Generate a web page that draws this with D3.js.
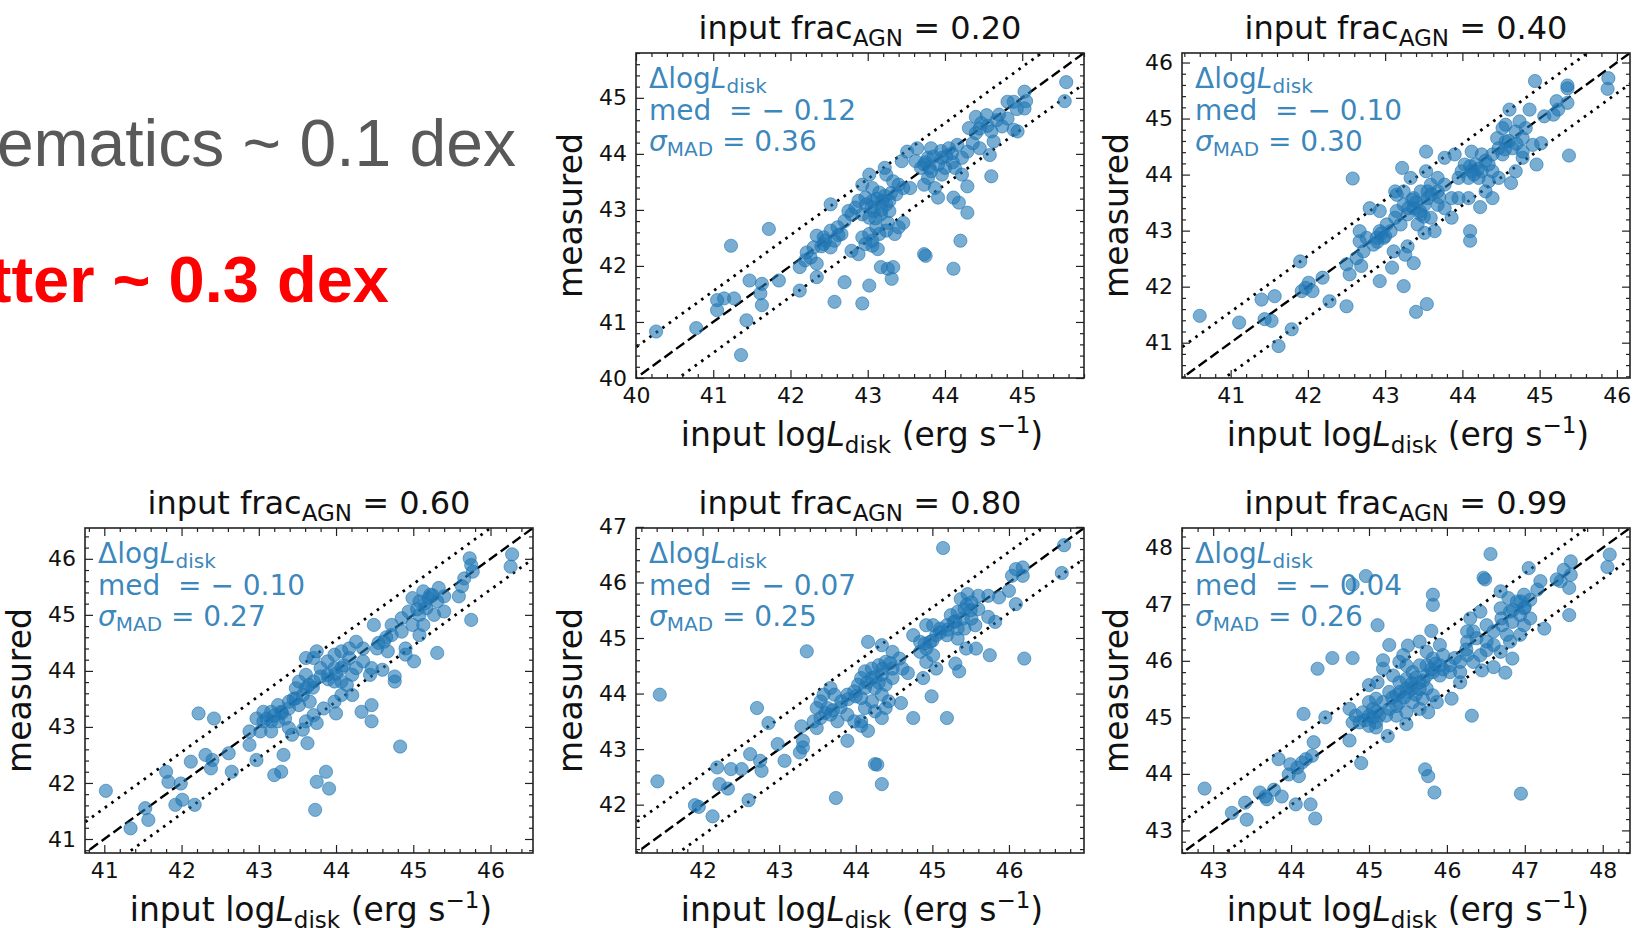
<!DOCTYPE html>
<html>
<head>
<meta charset="utf-8">
<script src="https://cdn.jsdelivr.net/npm/d3@7"></script>
<style>
  body { margin: 0; background: #fff; }
  svg { display: block; }
  text { white-space: pre; }
</style>
</head>
<body>
<div id="chart"></div>
<script>
// --- values ---
const fracLabels = ['0.20', '0.40', '0.60', '0.80', '0.99'];
const medLabels = ['\u22120.12', '\u22120.10', '\u22120.10', '\u22120.07', '\u22120.04'];
const sigmaLabels = ['0.36', '0.30', '0.27', '0.25', '0.26'];
const axisLimits = [[40, 45.8], [40.37, 46.17], [40.75, 46.55], [41.13, 46.98], [42.6, 48.35]];
const xTickValues = [[40, 41, 42, 43, 44, 45], [41, 42, 43, 44, 45, 46], [41, 42, 43, 44, 45, 46], [42, 43, 44, 45, 46], [43, 44, 45, 46, 47, 48]];
const yTickValues = [[40, 41, 42, 43, 44, 45], [41, 42, 43, 44, 45, 46], [41, 42, 43, 44, 45, 46], [42, 43, 44, 45, 46, 47], [43, 44, 45, 46, 47, 48]];
const bandWidth = 0.55; // dotted lines around 1:1

// [input logL, measured logL]
const pts020 = [[45.57,45.28],[45.55,44.94],[45.03,45.11],[45.05,44.94],[44.89,44.93],[45.03,44.81],[44.93,44.80],[44.81,44.63],[44.54,44.69],[44.67,44.60],[44.74,44.49],[44.60,44.40],[44.47,44.55],[44.40,44.66],[44.31,44.46],[44.40,44.37],[44.94,44.40],[44.58,43.98],[44.45,44.10],[44.36,44.19],[44.29,44.04],[44.22,43.93],[44.16,44.16],[44.09,44.01],[44.02,43.96],[44.60,43.60],[43.82,44.10],[43.78,43.93],[43.73,43.81],[43.64,44.10],[43.69,43.75],[43.82,43.69],[43.91,43.81],[44.00,43.75],[43.51,44.04],[43.62,43.87],[43.73,43.45],[43.87,43.39],[43.91,43.22],[43.78,43.57],[43.96,43.63],[44.13,43.75],[44.22,43.63],[44.29,43.42],[44.11,43.22],[44.18,43.13],[44.29,42.95],[43.44,43.87],[43.22,43.75],[43.24,43.63],[43.33,43.51],[43.46,43.39],[43.55,43.39],[43.37,43.28],[43.28,43.16],[43.02,43.63],[42.93,43.45],[43.06,43.39],[43.15,43.31],[42.97,43.22],[43.06,43.16],[43.19,43.16],[43.24,43.10],[43.28,42.98],[43.17,42.92],[43.08,42.98],[43.02,42.86],[42.93,42.92],[42.84,43.04],[42.75,42.98],[42.88,43.16],[43.26,42.77],[43.46,42.77],[43.40,42.69],[43.35,42.57],[43.24,42.63],[43.11,42.69],[43.15,42.57],[43.02,42.57],[42.93,42.51],[43.06,42.45],[42.79,42.92],[42.70,42.80],[42.61,42.69],[42.52,42.63],[42.66,42.57],[42.57,42.45],[42.52,42.33],[42.43,42.51],[42.34,42.54],[42.43,42.39],[42.30,42.33],[42.21,42.24],[42.26,42.15],[42.19,42.10],[42.12,41.98],[42.34,42.04],[42.52,43.10],[42.79,42.27],[42.88,42.21],[42.97,42.39],[43.06,42.36],[43.13,42.30],[43.73,42.21],[43.75,42.18],[44.20,42.45],[44.11,41.95],[43.17,41.98],[43.26,41.95],[43.33,41.98],[43.31,41.77],[43.02,41.65],[42.70,41.71],[42.57,41.36],[42.93,41.33],[42.34,41.80],[42.12,41.56],[41.72,42.66],[41.23,42.36],[41.47,41.74],[41.63,41.68],[41.61,41.51],[41.85,41.74],[41.05,41.39],[41.14,41.42],[41.27,41.42],[41.05,41.21],[41.63,41.30],[41.43,41.03],[40.78,40.89],[40.26,40.83],[41.36,40.41],[44.89,44.43],[44.81,44.93],[44.63,44.22],[43.96,43.93],
  [43.05,43.05],[43.12,43.20],[43.18,43.00],[42.98,43.10],[43.10,42.85],[43.22,43.25],[43.75,43.85],[43.85,43.95],[43.95,44.05],[44.05,44.10],[43.80,43.75],[44.10,43.85],[42.45,42.45],[42.40,42.35],[42.62,42.55],[44.45,44.45],[44.55,44.50],[44.70,44.70],[43.30,43.30],[43.40,43.45]];

const pts040 = [[45.89,45.72],[45.88,45.53],[45.36,45.59],[45.36,45.54],[44.94,45.67],[45.22,45.31],[45.36,45.28],[45.24,45.16],[45.18,45.07],[45.06,45.04],[44.87,45.16],[44.61,45.16],[44.74,44.95],[44.56,44.89],[44.69,44.77],[44.52,44.83],[44.82,44.83],[44.91,44.53],[45.02,44.56],[44.96,44.18],[45.38,44.34],[44.78,44.65],[44.45,44.65],[44.56,44.59],[44.65,44.47],[44.78,44.41],[44.78,44.30],[44.47,44.47],[44.52,44.36],[44.39,44.36],[44.69,44.06],[44.63,43.85],[44.47,43.94],[44.25,44.36],[44.12,44.41],[44.03,44.18],[44.17,44.18],[44.12,44.06],[44.25,44.06],[44.34,44.18],[44.39,44.06],[44.34,43.88],[44.21,43.94],[44.08,43.94],[43.95,43.94],[43.99,44.06],[43.90,44.36],[44.30,43.70],[44.08,43.58],[44.23,43.42],[44.10,42.99],[44.10,42.82],[43.68,43.94],[43.77,43.82],[43.68,43.70],[43.86,43.58],[43.77,43.40],[43.86,43.23],[43.68,43.46],[43.59,43.82],[43.53,44.41],[43.53,44.06],[43.46,43.70],[43.37,43.58],[43.55,43.58],[43.51,43.46],[43.37,43.40],[43.46,43.29],[43.59,43.23],[43.64,42.99],[43.51,42.96],[43.42,43.11],[43.33,43.94],[43.22,44.12],[43.24,43.70],[43.15,43.64],[43.24,43.46],[43.15,43.35],[43.29,43.29],[43.13,43.23],[43.20,43.11],[43.13,43.70],[43.07,42.99],[43.02,43.11],[42.93,42.99],[42.89,42.87],[42.98,42.87],[42.85,42.75],[42.76,42.87],[42.67,42.99],[42.67,42.81],[42.72,42.63],[42.63,42.51],[42.80,43.40],[42.93,43.35],[43.11,42.63],[43.26,42.57],[43.37,42.42],[43.29,42.72],[43.09,42.34],[43.24,42.01],[42.93,42.10],[42.69,42.37],[42.50,42.40],[42.54,42.22],[42.50,41.65],[42.58,43.93],[42.19,42.16],[42.01,42.07],[41.97,41.98],[42.06,41.92],[41.92,41.92],[41.90,42.45],[42.28,41.74],[41.57,41.83],[41.40,41.77],[41.44,41.42],[41.53,41.39],[41.11,41.36],[40.60,41.48],[41.79,41.24],[41.62,40.94],[43.40,41.55],[43.54,41.69],[44.39,43.58],[43.77,44.30],[43.95,43.58],
  [43.30,43.40],[43.40,43.50],[43.45,43.35],[43.55,43.70],[43.60,43.65],[43.35,43.55],[42.90,42.80],[43.00,42.90],[42.95,42.95],[44.10,44.15],[44.20,44.10],[44.30,44.25],[44.15,44.00],[44.60,44.60],[44.70,44.55],[44.55,44.45],[43.70,43.60],[43.50,43.25]];

const pts060 = [[46.28,46.08],[46.26,45.86],[45.73,46.01],[45.75,45.89],[45.77,45.77],[45.66,45.65],[45.63,45.51],[45.59,45.33],[45.40,45.33],[45.75,44.91],[45.33,45.48],[45.22,45.36],[45.13,45.42],[45.31,45.24],[45.08,45.24],[44.99,45.30],[45.17,45.12],[45.27,45.00],[45.40,45.06],[45.08,45.00],[44.94,45.06],[44.85,44.94],[44.99,44.82],[45.13,44.82],[45.08,44.64],[44.85,44.70],[44.72,44.82],[45.31,44.32],[45.01,44.17],[44.72,44.64],[44.62,44.52],[44.53,44.40],[44.49,44.82],[44.67,44.35],[44.60,44.02],[44.46,44.05],[44.44,43.93],[44.76,43.90],[44.76,43.81],[44.35,44.40],[44.26,44.52],[44.17,44.40],[44.35,44.17],[44.26,44.05],[44.17,44.23],[44.07,44.35],[44.07,44.05],[43.98,44.29],[43.98,44.05],[43.89,44.17],[43.89,43.93],[43.80,44.05],[44.07,43.81],[43.98,43.81],[44.21,43.93],[44.14,43.75],[44.21,43.57],[44.07,43.57],[43.98,43.45],[44.00,43.24],[43.84,43.33],[43.71,44.23],[43.75,44.35],[43.61,44.23],[43.71,43.81],[43.61,43.93],[43.52,43.81],[43.61,43.69],[43.48,43.69],[43.57,43.57],[43.48,43.51],[43.39,43.45],[43.52,43.39],[43.66,43.45],[43.71,43.21],[43.61,43.10],[43.75,43.07],[43.57,42.95],[43.39,43.33],[43.29,43.27],[43.34,43.15],[43.25,43.39],[43.16,43.27],[43.06,43.27],[43.25,43.10],[43.16,43.10],[43.06,43.10],[42.97,43.15],[43.02,42.92],[43.16,42.92],[42.88,42.92],[43.39,42.98],[43.43,42.86],[43.63,42.71],[42.88,42.68],[43.32,42.50],[42.97,42.41],[43.29,42.20],[43.20,42.14],[42.65,42.20],[42.61,42.53],[42.40,42.41],[42.38,42.26],[42.31,42.50],[42.22,43.24],[42.42,43.15],[42.12,42.38],[41.80,42.20],[41.83,42.02],[41.99,41.99],[41.92,41.61],[42.01,41.70],[42.17,41.61],[41.53,41.55],[41.57,41.34],[41.34,41.19],[41.02,41.86],[44.83,42.65],[43.73,41.52],[43.75,42.02],[43.87,42.20],[43.91,41.90],[44.33,43.27],[44.46,43.39],[44.46,43.10],[44.90,44.40],[44.90,44.29],
  [43.20,43.20],[43.30,43.25],[43.10,43.15],[43.70,43.70],[43.80,43.90],[43.90,43.85],[44.00,43.95],[44.10,44.10],[43.65,43.75],[45.05,45.10],[45.15,45.20],[45.25,45.35],[45.20,45.30],[44.55,44.50],[44.65,44.60],[43.45,43.50]];

const pts080 = [[46.72,46.67],[46.69,46.17],[45.14,46.62],[46.18,46.27],[46.09,46.24],[46.04,46.12],[46.18,46.12],[46.00,45.85],[46.09,45.61],[46.20,44.63],[45.75,44.69],[45.82,45.29],[45.73,45.38],[45.87,45.73],[45.73,45.76],[45.60,45.76],[45.51,45.64],[45.60,45.52],[45.46,45.79],[45.37,45.70],[45.42,45.52],[45.33,45.47],[45.28,45.29],[45.24,45.41],[45.51,45.35],[45.56,45.23],[45.42,45.17],[45.33,45.17],[45.19,45.23],[45.10,45.17],[45.01,45.23],[44.92,45.23],[45.05,45.05],[45.19,45.05],[45.33,44.99],[44.97,44.93],[44.84,44.93],[44.75,45.05],[44.84,44.75],[44.92,44.81],[45.01,44.69],[44.92,44.57],[45.05,44.45],[44.88,44.28],[45.30,44.54],[45.35,44.40],[45.44,44.81],[45.57,44.81],[44.99,43.95],[45.19,43.56],[44.75,43.56],[44.59,43.83],[44.16,44.93],[44.34,44.87],[44.48,44.75],[44.57,44.63],[44.61,44.45],[44.48,44.45],[44.39,44.57],[44.30,44.51],[44.21,44.45],[44.12,44.40],[44.07,44.28],[44.21,44.28],[44.34,44.34],[44.48,44.28],[44.39,44.16],[44.25,44.10],[44.12,44.10],[44.03,44.16],[43.98,44.04],[43.89,43.98],[44.07,43.92],[44.21,43.86],[44.34,43.98],[44.43,43.86],[44.39,43.74],[44.34,43.56],[44.25,43.68],[44.12,43.74],[44.07,43.50],[44.16,43.33],[44.07,43.42],[43.98,43.50],[43.89,43.62],[43.81,43.86],[43.72,43.98],[43.67,44.10],[43.58,43.98],[43.54,43.86],[43.63,43.74],[43.49,43.74],[43.54,43.56],[43.67,43.62],[43.76,43.50],[43.45,43.50],[43.49,43.38],[43.89,43.15],[44.25,42.73],[44.28,42.72],[44.34,42.37],[43.74,42.12],[43.36,44.76],[43.29,43.41],[43.31,43.15],[43.27,42.94],[43.31,43.03],[42.98,43.09],[43.07,42.79],[42.86,43.47],[42.71,43.74],[42.62,42.91],[42.75,42.79],[42.77,42.61],[42.60,42.08],[42.51,42.64],[42.37,42.64],[42.19,42.67],[42.22,42.37],[42.33,42.29],[41.90,41.99],[41.95,41.96],[42.13,41.79],[41.44,43.98],[41.41,42.42],[44.68,44.37],
  [43.70,43.70],[43.80,43.75],[43.90,43.90],[43.60,43.65],[44.00,43.95],[44.15,44.20],[44.25,44.30],[44.35,44.45],[44.30,44.20],[44.45,44.55],[45.20,45.15],[45.30,45.30],[45.40,45.35],[45.50,45.50],[45.45,45.60],[45.10,45.10],[44.90,44.90],[45.00,44.95]];

const pts099 = [[48.09,47.88],[48.06,47.66],[46.56,47.89],[47.59,47.76],[47.50,47.61],[47.59,47.52],[47.46,47.41],[47.57,47.29],[47.41,47.44],[47.57,46.81],[47.20,47.41],[47.16,47.26],[47.05,47.64],[47.25,46.57],[47.07,47.08],[46.99,47.17],[46.90,47.05],[46.79,47.11],[46.69,47.23],[46.69,46.93],[46.81,46.87],[46.99,46.93],[46.94,46.81],[47.07,46.75],[46.84,46.69],[46.71,46.63],[46.99,46.63],[46.94,46.46],[46.81,46.34],[46.77,46.46],[46.60,46.52],[46.51,46.63],[46.47,47.47],[46.49,47.44],[46.43,46.87],[46.30,46.75],[46.34,46.52],[46.26,46.34],[46.26,46.52],[46.38,46.40],[46.51,46.34],[46.51,46.19],[46.60,46.28],[46.69,46.16],[46.43,46.10],[46.34,45.98],[46.26,46.10],[46.17,45.98],[46.17,45.80],[46.17,45.62],[46.45,45.83],[46.60,45.89],[46.75,45.79],[46.84,46.04],[46.32,45.03],[45.82,47.17],[45.82,46.99],[45.80,46.53],[45.91,46.28],[45.95,46.10],[45.91,45.92],[45.82,46.04],[45.74,46.16],[45.65,46.34],[45.74,45.92],[46.04,45.92],[46.04,45.80],[45.91,45.74],[45.82,45.80],[45.74,45.74],[45.65,45.92],[45.56,45.80],[45.48,45.92],[45.39,45.98],[45.48,45.68],[45.65,45.62],[45.74,45.51],[45.82,45.39],[45.87,45.27],[46.06,45.33],[45.69,45.33],[45.56,45.51],[45.48,45.51],[45.39,45.62],[45.31,45.74],[45.26,46.28],[45.50,46.27],[45.44,46.10],[45.18,46.01],[45.18,45.86],[45.11,45.62],[45.26,45.45],[45.35,45.39],[45.39,45.27],[45.56,45.27],[45.65,45.15],[45.76,45.09],[45.48,45.09],[45.48,44.88],[45.35,45.03],[45.26,45.15],[45.18,45.27],[45.09,45.33],[45.00,45.57],[45.00,45.27],[45.05,45.15],[45.13,45.03],[45.22,45.03],[45.09,44.91],[45.00,45.03],[44.92,45.09],[44.83,45.03],[44.79,44.91],[44.88,44.91],[45.00,44.85],[45.24,44.67],[45.09,44.82],[44.75,44.59],[44.44,45.00],[44.16,45.06],[44.90,44.19],[44.75,45.15],[44.29,44.56],[44.27,44.32],[44.19,44.26],[44.14,44.20],[44.08,44.11],[43.99,44.17],[43.97,43.99],[44.10,43.96],[43.84,44.26],[43.78,43.72],[43.88,43.60],[43.67,43.60],[43.60,43.67],[43.69,43.55],[44.06,43.46],[44.25,43.46],[44.31,43.21],[43.41,43.49],[43.24,43.31],[43.43,43.19],[42.89,43.74],[45.72,44.08],[45.76,43.96],[45.84,43.67],[46.95,43.65],[45.11,46.63],[44.96,47.50],[44.79,47.35],[44.53,46.05],[44.79,46.05],[44.34,45.86],
  [45.30,45.35],[45.40,45.45],[45.50,45.45],[45.55,45.60],[45.60,45.70],[45.70,45.65],[45.80,45.85],[45.85,45.95],[45.45,45.35],[45.35,45.20],[45.05,45.00],[45.10,45.10],[44.95,44.95],[46.70,46.75],[46.85,46.90],[47.00,46.95],[46.95,47.05],[46.25,46.20],[46.10,46.05],[45.95,45.85],[45.60,45.40],[45.65,45.50]];

const panelPoints = [pts020, pts040, pts060, pts080, pts099];

// --- layout ---
const W = 1633, H = 928;
const pw = 448, ph = 325;
const origins = [[636, 53], [1182, 53], [85, 528], [636, 528], [1182, 528]];
const C0 = '#1f77b4';
const FONT = '"DejaVu Sans", Verdana, sans-serif';

const svg = d3.select('#chart').append('svg')
  .attr('width', W).attr('height', H)
  .attr('viewBox', `0 0 ${W} ${H}`)
  .style('font-family', FONT);

// slide text on the left, cut off by the frame
svg.append('text')
  .attr('x', 516).attr('y', 166)
  .attr('text-anchor', 'end')
  .attr('font-family', '"Liberation Sans", Arial, sans-serif')
  .attr('font-size', 66)
  .attr('fill', '#595959')
  .text('ematics ~ 0.1 dex');

svg.append('text')
  .attr('x', 389).attr('y', 302)
  .attr('text-anchor', 'end')
  .attr('font-family', '"Liberation Sans", Arial, sans-serif')
  .attr('font-weight', 'bold')
  .attr('font-size', 65)
  .attr('fill', '#ff0000')
  .text('tter ~ 0.3 dex');

function minorTicks(lim) {
  const out = [];
  for (let v = Math.ceil(lim[0] * 5) / 5; v <= lim[1] + 1e-9; v = Math.round((v + 0.2) * 5) / 5) {
    if (Math.abs(v - Math.round(v)) > 1e-6) out.push(v);
  }
  return out;
}

function styleAxis(sel) {
  sel.select('.domain').remove();
  sel.selectAll('.tick line').attr('stroke', '#222').attr('stroke-width', 1.2);
  sel.selectAll('.tick text').attr('fill', '#111').attr('font-size', 22).attr('font-family', FONT);
}

function drawPanel(i) {
  const [ox, oy] = origins[i];
  const lim = axisLimits[i];
  const g = svg.append('g').attr('transform', `translate(${ox},${oy})`);

  const x = d3.scaleLinear().domain(lim).range([0, pw]);
  const y = d3.scaleLinear().domain(lim).range([ph, 0]);

  const clipId = 'clip' + i;
  g.append('clipPath').attr('id', clipId)
    .append('rect').attr('width', pw).attr('height', ph);
  const plot = g.append('g').attr('clip-path', `url(#${clipId})`);

  // 1:1 and +-band lines
  const line = d3.line().x(d => x(d[0])).y(d => y(d[1]));
  const lo = lim[0] - 1, hi = lim[1] + 1;
  [bandWidth, -bandWidth].forEach(off => {
    plot.append('path')
      .attr('d', line([[lo, lo + off], [hi, hi + off]]))
      .attr('stroke', '#000').attr('stroke-width', 2.8).attr('fill', 'none')
      .attr('stroke-dasharray', '2.6,5.4');
  });
  plot.append('path')
    .attr('d', line([[lo, lo], [hi, hi]]))
    .attr('stroke', '#000').attr('stroke-width', 2.4).attr('fill', 'none')
    .attr('stroke-dasharray', '10,4.5');

  // scatter
  plot.selectAll('circle')
    .data(panelPoints[i])
    .enter().append('circle')
    .attr('cx', d => x(d[0]))
    .attr('cy', d => y(d[1]))
    .attr('r', 6.6)
    .attr('fill', C0).attr('fill-opacity', 0.6)
    .attr('stroke', C0).attr('stroke-opacity', 0.6).attr('stroke-width', 1);

  // axes: ticks point inward on all four sides
  const minors = minorTicks(lim);
  g.append('g').attr('transform', `translate(0,${ph})`)
    .call(d3.axisBottom(x).tickValues(xTickValues[i]).tickSizeInner(-8).tickSizeOuter(0).tickPadding(9).tickFormat(d3.format('d')))
    .call(styleAxis);
  g.append('g').attr('transform', `translate(0,${ph})`)
    .call(d3.axisBottom(x).tickValues(minors).tickSizeInner(-4).tickSizeOuter(0).tickFormat(''))
    .call(styleAxis);
  g.append('g')
    .call(d3.axisLeft(y).tickValues(yTickValues[i]).tickSizeInner(-8).tickSizeOuter(0).tickPadding(9).tickFormat(d3.format('d')))
    .call(styleAxis);
  g.append('g')
    .call(d3.axisLeft(y).tickValues(minors).tickSizeInner(-4).tickSizeOuter(0).tickFormat(''))
    .call(styleAxis);
  g.append('g')
    .call(d3.axisTop(x).tickValues(xTickValues[i]).tickSizeInner(-8).tickSizeOuter(0).tickFormat(''))
    .call(styleAxis);
  g.append('g')
    .call(d3.axisTop(x).tickValues(minors).tickSizeInner(-4).tickSizeOuter(0).tickFormat(''))
    .call(styleAxis);
  g.append('g').attr('transform', `translate(${pw},0)`)
    .call(d3.axisRight(y).tickValues(yTickValues[i]).tickSizeInner(-8).tickSizeOuter(0).tickFormat(''))
    .call(styleAxis);
  g.append('g').attr('transform', `translate(${pw},0)`)
    .call(d3.axisRight(y).tickValues(minors).tickSizeInner(-4).tickSizeOuter(0).tickFormat(''))
    .call(styleAxis);

  g.append('rect')
    .attr('width', pw).attr('height', ph)
    .attr('fill', 'none').attr('stroke', '#222').attr('stroke-width', 1.6);

  // title
  const t = g.append('text')
    .attr('x', pw / 2).attr('y', -14)
    .attr('text-anchor', 'middle')
    .attr('font-size', 32).attr('fill', '#111');
  t.append('tspan').text('input frac');
  t.append('tspan').attr('font-size', 23).attr('dy', 7).text('AGN');
  t.append('tspan').attr('dy', -7).text(' = ' + fracLabels[i]);

  // x label
  const xl = g.append('text')
    .attr('x', pw / 2 + 2).attr('y', ph + 68)
    .attr('text-anchor', 'middle')
    .attr('font-size', 33).attr('fill', '#111');
  xl.append('tspan').text('input log');
  xl.append('tspan').attr('font-style', 'italic').text('L');
  xl.append('tspan').attr('font-size', 23).attr('dy', 7).text('disk');
  xl.append('tspan').attr('dy', -7).text(' (erg s');
  xl.append('tspan').attr('font-size', 23).attr('dy', -13).text('\u22121');
  xl.append('tspan').attr('dy', 13).text(')');

  // y label
  g.append('text')
    .attr('transform', `translate(-54,${ph / 2}) rotate(-90)`)
    .attr('text-anchor', 'middle')
    .attr('font-size', 33).attr('fill', '#111')
    .text('measured');

  // stats annotation
  const ann = g.append('g').attr('fill', C0).attr('fill-opacity', 0.9).attr('font-size', 28);
  const a1 = ann.append('text').attr('x', 13).attr('y', 35);
  a1.append('tspan').text('\u0394log');
  a1.append('tspan').attr('font-style', 'italic').text('L');
  a1.append('tspan').attr('font-size', 20).attr('dy', 5).text('disk');
  ann.append('text').attr('x', 13).attr('y', 67)
    .text('med  = ' + medLabels[i].replace('\u2212', '\u2212 '));
  const a3 = ann.append('text').attr('x', 13).attr('y', 98);
  a3.append('tspan').attr('font-style', 'italic').text('\u03c3');
  a3.append('tspan').attr('font-size', 20).attr('dy', 5).text('MAD');
  a3.append('tspan').attr('dy', -5).text(' = ' + sigmaLabels[i]);
}

for (let i = 0; i < 5; i++) drawPanel(i);
</script>
</body>
</html>
